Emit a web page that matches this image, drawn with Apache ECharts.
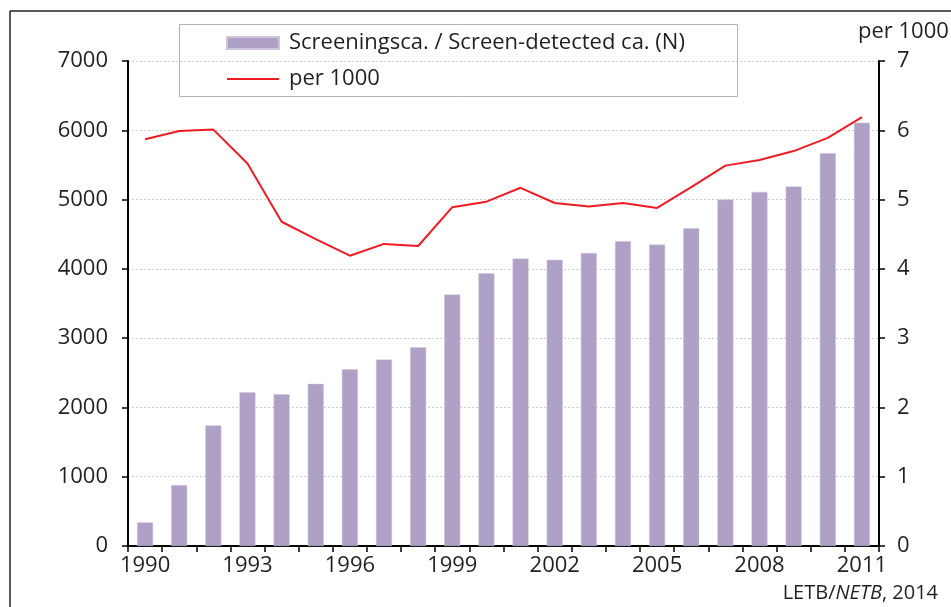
<!DOCTYPE html>
<html>
<head>
<meta charset="utf-8">
<script src="https://cdn.jsdelivr.net/npm/echarts@6/dist/echarts.min.js"></script>
<style>
html,body{margin:0;padding:0;background:#fff;}
#chart{width:951px;height:607px;}
</style>
</head>
<body>
<div id="chart"></div>
<script>
const years = ['1990','1991','1992','1993','1994','1995','1996','1997','1998','1999','2000','2001','2002','2003','2004','2005','2006','2007','2008','2009','2010','2011'];
const screenDetected = [340,880,1740,2220,2190,2340,2550,2690,2870,3630,3935,4150,4130,4230,4400,4350,4585,5000,5110,5190,5670,6110];
const per1000 = [5.87,5.99,6.01,5.52,4.68,4.43,4.19,4.36,4.33,4.89,4.97,5.17,4.95,4.90,4.95,4.88,5.18,5.49,5.57,5.70,5.89,6.19];
const leftTicks = {min:0, max:7000, interval:1000};
const rightTicks = {min:0, max:7, interval:1};
const barName = 'Screeningsca. / Screen-detected ca. (N)';
const lineName = 'per 1000';

const FONT = 'Open Sans';
const TXT = '#231f20';
const chart = echarts.init(document.getElementById('chart'), null, {renderer:'canvas'});
chart.setOption({
  animation:false,
  textStyle:{fontFamily:FONT},
  grid:{left:128, right:72, top:61, bottom:61, containLabel:false},
  legend:{
    orient:'vertical', left:226, top:31, padding:0, itemGap:12,
    itemWidth:52, itemHeight:12, symbolKeepAspect:true,
    textStyle:{fontFamily:FONT, fontSize:22, color:TXT, lineHeight:24, padding:[0,0,0,5]},
    data:[{name:barName, icon:'rect'},{name:lineName, icon:'path://M0,0 H52 V2 H0 Z'}]
  },
  xAxis:{
    type:'category', data:years, boundaryGap:true,
    axisLine:{lineStyle:{color:'#000', width:2}},
    axisTick:{show:true, interval:0, length:6, lineStyle:{color:'#000', width:1.5}},
    axisLabel:{interval:2, fontSize:22, color:TXT, margin:9, fontFamily:FONT},
    splitLine:{show:false}
  },
  yAxis:[{
    type:'value', position:'left', min:leftTicks.min, max:leftTicks.max, interval:leftTicks.interval,
    axisLine:{show:true, lineStyle:{color:'#000', width:2}},
    axisTick:{show:true, length:6, lineStyle:{color:'#000', width:1.5}},
    axisLabel:{fontSize:22, color:TXT, margin:20, fontFamily:FONT, formatter:function(v){return String(v);}},
    splitLine:{show:true, lineStyle:{color:'#cfcfcf', type:[2,2], width:1}}
  },{
    type:'value', position:'right', min:rightTicks.min, max:rightTicks.max, interval:rightTicks.interval,
    axisLine:{show:true, lineStyle:{color:'#000', width:2}},
    axisTick:{show:true, length:6, lineStyle:{color:'#000', width:1.5}},
    axisLabel:{fontSize:22, color:TXT, margin:18, fontFamily:FONT, formatter:function(v){return String(v);}},
    splitLine:{show:false}
  }],
  series:[{
    name:barName, type:'bar', yAxisIndex:0, data:screenDetected, barWidth:16,
    itemStyle:{color:'#afa0c5', borderColor:'#cfc4dc', borderWidth:0.5}
  },{
    name:lineName, type:'line', yAxisIndex:1, data:per1000, symbol:'none', showSymbol:false,
    lineStyle:{color:'#ed1c24', width:2}, itemStyle:{color:'#ed1c24'}, z:5
  }],
  graphic:[
    {type:'line', shape:{x1:10, y1:11, x2:951, y2:11}, style:{stroke:'#222', lineWidth:1.5}, silent:true},
    {type:'line', shape:{x1:10, y1:11, x2:10, y2:607}, style:{stroke:'#222', lineWidth:1.5}, silent:true},
    {type:'rect', shape:{x:179.5, y:24.5, width:558, height:72}, style:{fill:'#fff', stroke:'#b4b4b4', lineWidth:1}, z:-1, silent:true},
    {type:'text', left:858, top:21, style:{text:'per 1000', font:'22px ' + FONT, fill:TXT}, silent:true},
    {type:'text', right:13, top:583, style:{
      text:'{n|LETB/}{i|NETB}{n|, 2014}',
      rich:{n:{font:'20px ' + FONT, fill:TXT}, i:{font:'italic 20px ' + FONT, fill:TXT}}
    }, silent:true}
  ]
});
</script>
</body>
</html>
